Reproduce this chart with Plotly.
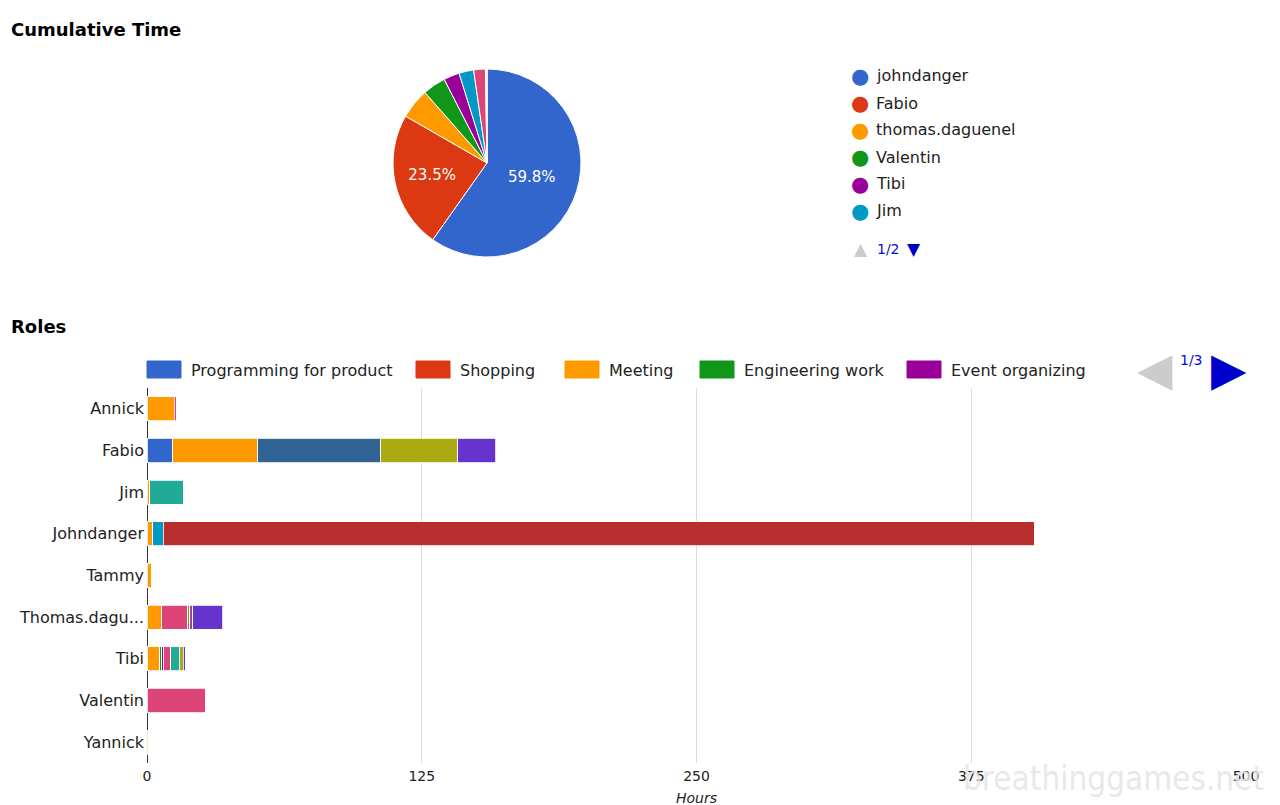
import plotly.graph_objects as go

# ---- data: pie (cumulative hours per person) ----
people = ["johndanger", "Fabio", "thomas.daguenel", "Valentin", "Tibi", "Jim",
          "Annick", "Tammy", "Yannick"]
people_hours = [404, 158.8, 35.2, 26.8, 18.4, 17.0, 13.6, 1.6, 0.2]
people_colors = ["#3366cc", "#dc3912", "#ff9900", "#109618", "#990099", "#0099c6",
                 "#dd4477", "#66aa00", "#b82e2e"]

# ---- data: roles stacked bars ----
members = ["Annick", "Fabio", "Jim", "Johndanger", "Tammy", "Thomas.dagu...",
           "Tibi", "Valentin", "Yannick"]
roles = ["Programming for product", "Shopping", "Meeting", "Engineering work",
         "Event organizing", "Role 6", "Role 7", "Role 8", "Role 9", "Role 10",
         "Role 11", "Role 12", "Role 13", "Role 14"]
role_colors = ["#3366cc", "#dc3912", "#ff9900", "#109618", "#990099", "#0099c6",
               "#dd4477", "#66aa00", "#b82e2e", "#316395", "#994499", "#22aa99",
               "#aaaa11", "#6633cc"]
# hours per role, one list per role, in the order of `members`
role_hours = [
    [0, 11.8, 0, 0, 0, 0, 0, 0, 0],            # Programming for product
    [0, 0, 0, 0, 0, 0, 0, 0, 0],               # Shopping
    [12.3, 38.6, 1.2, 2.7, 2.0, 6.8, 5.9, 0, 0.7],  # Meeting
    [0, 0, 0, 0, 0, 0, 0.9, 0, 0],             # Engineering work
    [0, 0, 0, 0, 0, 0, 0.9, 0, 0],             # Event organizing
    [0, 0, 0, 4.8, 0, 0, 0, 0, 0],
    [1.2, 0, 0, 0, 0, 11.8, 3.2, 26.4, 0],
    [0, 0, 0, 0, 0, 0.9, 0, 0, 0],
    [0, 0, 0, 396.5, 0, 0, 0, 0, 0],
    [0, 55.9, 0, 0, 0, 0, 0, 0, 0],
    [0, 0, 0, 0, 0, 1.4, 0, 0, 0],
    [0, 0, 15.5, 0, 0, 0, 4.1, 0, 0],
    [0, 35.0, 0, 0, 0, 0, 1.4, 0, 0],
    [0, 17.3, 0, 0, 0, 13.6, 0.9, 0, 0],
]
x_ticks = [0, 125, 250, 375, 500]

FONT = "DejaVu Sans, Arial, sans-serif"
# page body has an 8px margin, so the figure is offset by 8px
W, H = 1264, 800
OFF = 8


def px(x):
    return (x - OFF) / W


def py(y):
    return 1 - (y - OFF) / H


fig = go.Figure()

fig.add_trace(go.Pie(labels=people, values=people_hours, sort=False,
                     direction="clockwise", rotation=0,
                     marker=dict(colors=people_colors, line=dict(color="white", width=1)),
                     textinfo="percent",
                     textposition=["inside", "inside"] + ["none"] * (len(people) - 2),
                     insidetextfont=dict(color="white", size=15, family=FONT),
                     hoverinfo="label+value+percent", showlegend=False,
                     domain=dict(x=[px(393), px(581)], y=[py(257), py(69)])))

for i, role in enumerate(roles):
    fig.add_trace(go.Bar(y=members, x=role_hours[i], name=role, orientation="h",
                         marker=dict(color=role_colors[i], line=dict(color="white", width=0.8)),
                         showlegend=False))

fig.update_layout(
    width=W, height=H,
    margin=dict(l=0, r=0, t=0, b=0, autoexpand=False),
    paper_bgcolor="white", plot_bgcolor="white",
    barmode="stack", bargap=0.42,
    font=dict(family=FONT, size=14, color="#222222"),
    xaxis=dict(domain=[px(147), px(1246)], range=[0, 500], tickvals=x_ticks,
               automargin=False,
               showgrid=True, gridcolor="#dddddd", zeroline=True,
               zerolinecolor="#333333", zerolinewidth=1, ticks="",
               ticklabelstandoff=3,
               tickfont=dict(size=14, color="#222222")),
    yaxis=dict(domain=[py(763), py(388)], autorange="reversed", automargin=False,
               showgrid=False, ticks="", ticklabelstandoff=2,
               tickfont=dict(size=16, color="#222222")),
)

ann = []
shapes = []
ann.append(dict(text="<b>Cumulative Time</b>", x=px(9), y=py(30), xref="paper", yref="paper",
                xanchor="left", yanchor="middle", showarrow=False,
                font=dict(size=18, color="#000")))
ann.append(dict(text="<b>Roles</b>", x=px(9), y=py(326), xref="paper", yref="paper",
                xanchor="left", yanchor="middle", showarrow=False,
                font=dict(size=18, color="#000")))
# x-axis title
ann.append(dict(text="Hours", x=px(696), y=py(798), xref="paper", yref="paper",
                xanchor="center", yanchor="middle", showarrow=False,
                font=dict(size=14, color="#222", style="italic")))

# pie legend (first page of six entries)
for i in range(6):
    yy = py(76 + 27 * i)
    ann.append(dict(text="●", x=px(860), y=yy, xref="paper", yref="paper", xanchor="center",
                    yanchor="middle", showarrow=False,
                    font=dict(size=21, color=people_colors[i])))
    ann.append(dict(text=people[i], x=px(874), y=yy, xref="paper", yref="paper", xanchor="left",
                    yanchor="middle", showarrow=False, font=dict(size=16, color="#222")))
ann.append(dict(text="▲", x=px(861), y=py(249), xref="paper", yref="paper", showarrow=False,
                xanchor="center", yanchor="middle", font=dict(size=17, color="#cccccc")))
ann.append(dict(text="1/2", x=px(888), y=py(249), xref="paper", yref="paper", showarrow=False,
                xanchor="center", yanchor="middle", font=dict(size=14, color="#0011cc")))
ann.append(dict(text="▼", x=px(914), y=py(249), xref="paper", yref="paper", showarrow=False,
                xanchor="center", yanchor="middle", font=dict(size=17, color="#0000cc")))

# bar legend (first page of five roles)
swatch_left = [147, 416, 565, 700, 907]
for i in range(5):
    x0 = swatch_left[i]
    shapes.append(dict(type="rect", xref="paper", yref="paper",
                       x0=px(x0), x1=px(x0 + 34), y0=py(378), y1=py(361),
                       fillcolor=role_colors[i], line=dict(color=role_colors[i], width=1)))
    ann.append(dict(text=roles[i], x=px(x0 + 42), y=py(370), xref="paper", yref="paper",
                    xanchor="left", yanchor="middle", showarrow=False,
                    font=dict(size=16, color="#222")))

# bar legend paging
ann.append(dict(text="◀", x=px(1155), y=py(369), xref="paper", yref="paper", showarrow=False,
                xanchor="center", yanchor="middle", font=dict(size=46, color="#cccccc")))
ann.append(dict(text="1/3", x=px(1191), y=py(360), xref="paper", yref="paper", showarrow=False,
                xanchor="center", yanchor="middle", font=dict(size=14, color="#0011cc")))
ann.append(dict(text="▶", x=px(1229), y=py(369), xref="paper", yref="paper", showarrow=False,
                xanchor="center", yanchor="middle", font=dict(size=46, color="#0000cc")))

# watermark
ann.append(dict(text="breathinggames.net", x=px(1266), y=py(778), xref="paper", yref="paper",
                showarrow=False, xanchor="right", yanchor="middle",
                font=dict(size=33, color="rgba(228,228,228,0.85)",
                          family="Liberation Sans Narrow, DejaVu Sans Condensed, sans-serif")))

fig.update_layout(annotations=ann, shapes=shapes)

fig.write_html("out.html")
